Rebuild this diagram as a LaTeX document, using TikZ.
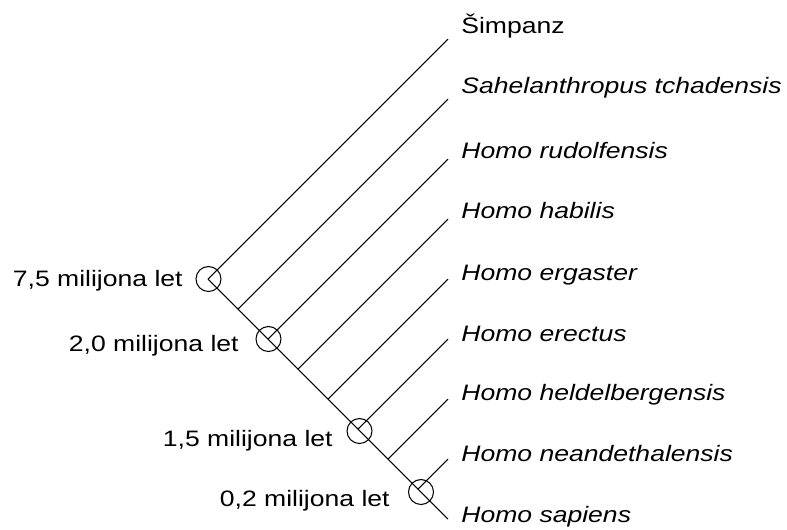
\documentclass[tikz,border=0pt]{standalone}
\usepackage{fontspec}
\setmainfont{Liberation Sans}[FakeStretch=1.19]

\begin{document}
\begin{tikzpicture}[
  x=0.02cm, y=-0.02cm,
  branch/.style={line width=0.6pt, draw=black},
  ring/.style={circle, draw=black, line width=0.6pt, inner sep=0pt, minimum size=0.5cm},
  taxon/.style={anchor=base west, inner sep=0pt, font=\fontsize{12.7}{15}\selectfont\itshape},
  age/.style={anchor=base east, inner sep=0pt, font=\fontsize{12.7}{15}\selectfont}
]
  \useasboundingbox (0,0) rectangle (787,529);

  % koren in konec glavne veje
  \coordinate (root) at (208,279);
  \coordinate (tip8) at (448,519);
  \draw[branch] (root) -- (tip8);

  % stranske veje: od glavne veje do vrha pri x=448
  \foreach \k in {0,...,7}{
    \coordinate (base\k) at ({208+30*\k},{279+30*\k});
    \coordinate (tip\k) at (448,{39+60*\k});
    \draw[branch] (base\k) -- (tip\k);
  }

  % imena vrst
  \node[taxon, font=\fontsize{12.7}{15}\selectfont] (t0) at (461,33) {Šimpanz};
  \foreach \k/\y/\name in {1/93/Sahelanthropus tchadensis, 2/158/Homo rudolfensis,
      3/218/Homo habilis, 4/280/Homo ergaster, 5/341/Homo erectus,
      6/400/Homo heldelbergensis, 7/461/Homo neandethalensis, 8/522/Homo sapiens}
    \node[taxon] (t\k) at (461,\y) {\name};

  % razcepi s starostjo
  \node[ring] (c1) at (208.5,279) {};
  \node[ring] (c2) at (268.5,339) {};
  \node[ring] (c3) at (359.5,431) {};
  \node[ring] (c4) at (421,492) {};

  \node[age] (a1) at (183,286) {7,5 milijona let};
  \node[age] (a2) at (239,351.5) {2,0 milijona let};
  \node[age] (a3) at (333,446) {1,5 milijona let};
  \node[age] (a4) at (390,506.5) {0,2 milijona let};
\end{tikzpicture}
\end{document}
